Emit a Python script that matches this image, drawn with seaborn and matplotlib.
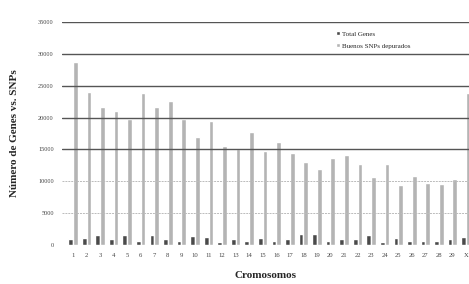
import seaborn as sns
import matplotlib.pyplot as plt
import pandas as pd

# chromosomes 1..29 plus X (cut at the right edge)
cromosomas = [str(i) for i in range(1, 30)] + ["X"]
total_genes = [1000, 1100, 1600, 900, 1500, 600, 1500, 1000, 700, 1400,
               1300, 500, 1000, 600, 1100, 700, 1000, 1700, 1800, 600,
               900, 900, 1500, 500, 1100, 700, 700, 600, 900, 1200]
snps_depurados = [28700, 24000, 21600, 21000, 19800, 23800, 21600, 22600, 19800, 16900,
                  19500, 15600, 15000, 17800, 14700, 16200, 14400, 13000, 11900, 13600,
                  14100, 12700, 10600, 12700, 9400, 10800, 9700, 9500, 10300, 23800]
y_ticks = [0, 5000, 10000, 15000, 20000, 25000, 30000, 35000]
series = ["Total Genes", "Buenos SNPs depurados"]

df = pd.DataFrame({"Cromosoma": cromosomas * 2,
                   "Valor": total_genes + snps_depurados,
                   "Serie": [series[0]] * len(cromosomas) + [series[1]] * len(cromosomas)})

sns.set_style("white")
plt.rcParams['font.family'] = ['Liberation Serif', 'DejaVu Serif']

fig = plt.figure(figsize=(4.69, 2.84), dpi=100)
ax = fig.add_axes([62 / 469, 39 / 284, 407 / 469, 223 / 284])

sns.barplot(data=df, x="Cromosoma", y="Valor", hue="Serie", hue_order=series,
            palette=["#4a4a4a", "#b4b4b4"], width=0.7, ax=ax, legend=True)

ax.set_ylim(0, 35000)
ax.set_xlim(-0.81, 29.22)
ax.set_yticks(y_ticks)
ax.set_yticklabels([str(t) for t in y_ticks], fontsize=4.5, color="#444444")
ax.tick_params(axis="x", labelsize=4.8, colors="#444444", pad=6, length=0)
ax.tick_params(axis="y", pad=6, length=0)

# grid drawn over the bars, as in the scan
ax.set_axisbelow(False)
ax.yaxis.grid(True, color="#555555", linewidth=1.0)
for t, gl in zip(y_ticks, ax.get_ygridlines()):
    if t < 15000:
        gl.set_color("#bbbbbb")
        gl.set_linestyle((0, (2, 1)))
        gl.set_linewidth(0.7)
    if t == 0:
        gl.set_visible(False)
for s in ax.spines.values():
    s.set_visible(False)

ax.set_xlabel("Cromosomos", fontsize=8, fontweight="bold", labelpad=9)
ax.set_ylabel("Número de Genes vs. SNPs", fontsize=8, fontweight="bold", labelpad=14)

ax.legend(loc="upper left", bbox_to_anchor=(0.665, 0.975), frameon=False,
          fontsize=5, handlelength=0.6, handleheight=0.6, handletextpad=0.3,
          labelspacing=0.9, borderpad=0)

fig.savefig("out.png", dpi=100)
